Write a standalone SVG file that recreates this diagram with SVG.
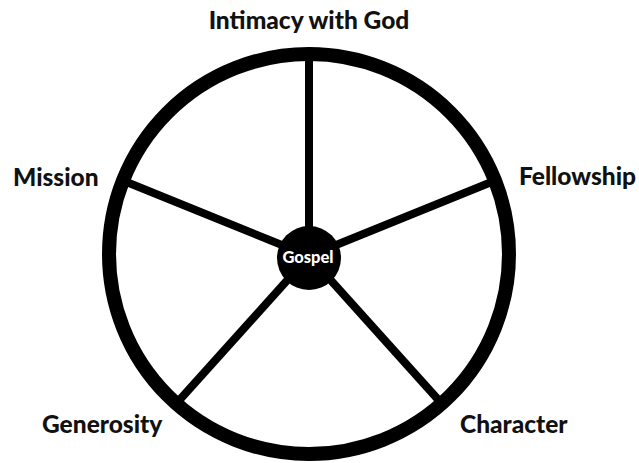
<svg xmlns="http://www.w3.org/2000/svg" width="639" height="463" viewBox="0 0 639 463">
<style>
.lbl{font-family:Lato,"Open Sans","Liberation Sans",sans-serif;font-weight:900;font-size:24.5px;fill:#111}
.spoke{stroke:#000;stroke-width:8;fill:none}
</style>
<rect width="639" height="463" fill="#fff"/>
<g id="connectors">
<line class="spoke" x1="309" y1="256" x2="309" y2="56"/>
<line class="spoke" x1="309" y1="256" x2="494" y2="181"/>
<line class="spoke" x1="309" y1="256" x2="124" y2="181"/>
<line class="spoke" x1="309" y1="256" x2="443" y2="405"/>
<line class="spoke" x1="309" y1="256" x2="175" y2="405"/>
</g>
<g id="wheel">
<circle cx="309" cy="254" r="200" fill="none" stroke="#000" stroke-width="14"/>
</g>
<g id="gospel">
<circle cx="309" cy="258" r="32" fill="#000"/>
<text x="308" y="263" text-anchor="middle" style="font-family:Lato,'Open Sans','Liberation Sans',sans-serif;font-weight:900;font-size:16.5px;fill:#fff">Gospel</text>
</g>
<g id="intimacy"><text class="lbl" x="309" y="29" text-anchor="middle">Intimacy with God</text></g>
<g id="fellowship"><text class="lbl" x="519" y="185">Fellowship</text></g>
<g id="mission"><text class="lbl" x="13" y="186">Mission</text></g>
<g id="generosity"><text class="lbl" x="42" y="433">Generosity</text></g>
<g id="character"><text class="lbl" x="460" y="433">Character</text></g>
</svg>
